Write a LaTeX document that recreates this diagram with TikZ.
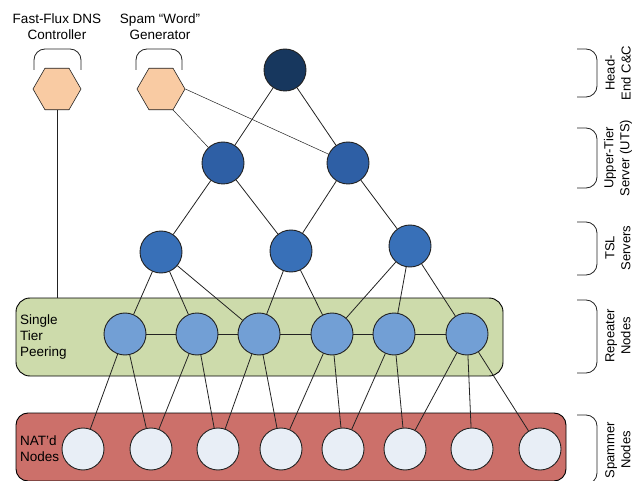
\documentclass[tikz,border=0pt]{standalone}
\usepackage{fontspec}
\setmainfont{Liberation Sans}
\usetikzlibrary{shapes.geometric}

\definecolor{headfill}{HTML}{17375E}
\definecolor{utsfill}{HTML}{2E5FA5}
\definecolor{tslfill}{HTML}{3870B8}
\definecolor{repfill}{HTML}{729FD5}
\definecolor{spamfill}{HTML}{E8EEF6}
\definecolor{peerfill}{HTML}{CDDBAB}
\definecolor{natfill}{HTML}{CC706A}
\definecolor{hexfill}{HTML}{F9CBA3}
\definecolor{edgecol}{HTML}{222222}

\pgfdeclarelayer{boxes}
\pgfdeclarelayer{edges}
\pgfsetlayers{boxes,edges,main}

\tikzset{
  orb/.style={circle, draw=edgecol, line width=0.9pt, minimum size=42pt, inner sep=0pt},
  headnode/.style={orb, fill=headfill},
  utsnode/.style={orb, fill=utsfill},
  tslnode/.style={orb, fill=tslfill},
  repnode/.style={orb, fill=repfill},
  spamnode/.style={orb, fill=spamfill},
  hexnode/.style={regular polygon, regular polygon sides=6, minimum size=48pt,
    inner sep=0pt, draw=edgecol, line width=0.6pt, fill=hexfill},
  tierbox/.style={draw=black, line width=0.9pt, rounded corners=14pt, inner sep=0pt},
  link/.style={draw=edgecol, line width=0.8pt},
  thinlink/.style={draw=edgecol, line width=0.5pt},
  brace/.style={draw=edgecol, line width=0.8pt, rounded corners=11pt},
  toplabel/.style={align=center, font=\fontsize{13.5}{16}\selectfont, inner sep=0pt},
  boxlabel/.style={align=left, font=\fontsize{13.5}{16}\selectfont, inner sep=0pt, anchor=west},
  sidelabel/.style={align=center, font=\fontsize{13}{16}\selectfont, inner sep=0pt, rotate=90}
}

\begin{document}
\begin{tikzpicture}[x=1pt, y=-1pt]
\useasboundingbox (0,0) rectangle (632,481);

% tier boxes
\begin{pgfonlayer}{boxes}
\node[tierbox, fill=peerfill, minimum width=487pt, minimum height=78pt] (peer) at (259.5,337) {};
\node[tierbox, fill=natfill, minimum width=550pt, minimum height=68pt, rounded corners=12pt] (nat) at (291,447) {};
\end{pgfonlayer}
\node[boxlabel] (peerlbl) at (20,337) {Single\\Tier\\Peering};
\node[boxlabel] (natlbl) at (20,448.5) {NAT’d\\Nodes};

% control hexagons and their labels
\node[hexnode] (ff) at (57,89) {};
\node[hexnode] (sw) at (161,89) {};
\node[toplabel] (fflbl) at (57,27) {Fast-Flux DNS\\Controller};
\node[toplabel] (swlbl) at (160,27) {Spam “Word”\\Generator};
\draw[brace] (34,70) -- (34,49) -- (81,49) -- (81,70);
\draw[brace] (136,70) -- (136,49) -- (182,49) -- (182,70);

% server hierarchy
\node[headnode] (head) at (285,70) {};
\node[utsnode] (u1) at (223,163) {};
\node[utsnode] (u2) at (348,163) {};
\node[tslnode] (t1) at (161,252) {};
\node[tslnode] (t2) at (291,251) {};
\node[tslnode] (t3) at (410,246) {};

% repeater nodes
\foreach \i/\x in {1/125,2/197,3/259,4/332,5/394,6/467}
  \node[repnode] (r\i) at (\x,334) {};

% spammer nodes
\foreach \i/\x in {1/83,2/151,3/218,4/281,5/343,6/405,7/472,8/540}
  \node[spamnode] (s\i) at (\x,449) {};

% connectors
\begin{pgfonlayer}{edges}
  \draw[link] (ff.south) -- (ff.south |- peer.north);
  \draw[thinlink] (sw.-60) -- (u1);
  \draw[thinlink] (sw.0) -- (u2);
  \draw[link] (head) -- (u1);
  \draw[link] (head) -- (u2);
  \draw[link] (u1) -- (t1);
  \draw[link] (u1) -- (t2);
  \draw[link] (u2) -- (t2);
  \draw[link] (u2) -- (t3);
  \foreach \r in {1,2,3} \draw[link] (t1) -- (r\r);
  \foreach \r in {3,4} \draw[link] (t2) -- (r\r);
  \foreach \r in {4,5,6} \draw[link] (t3) -- (r\r);
  \draw[link] (r1) -- (r2) -- (r3) -- (r4) -- (r5) -- (r6);
  \foreach \a/\b in {1/1,1/2,2/2,2/3,3/3,3/4,4/4,4/5,5/5,5/6,6/6,6/7,6/8}
    \draw[link] (r\a) -- (s\b);
\end{pgfonlayer}

% tier braces and names on the right
\draw[brace] (577,49) -- (597,49) -- (597,97) -- (577,97);
\draw[brace] (577,128) -- (597,128) -- (597,188) -- (577,188);
\draw[brace] (577,222) -- (597,222) -- (597,275) -- (577,275);
\draw[brace] (577,300) -- (597,300) -- (597,373) -- (577,373);
\draw[brace] (577,415) -- (597,415) -- (597,484) -- (577,484);
\node[sidelabel] (l1) at (618,73) {Head-\\End C\&C};
\node[sidelabel] (l2) at (618,158) {Upper-Tier\\Server (UTS)};
\node[sidelabel] (l3) at (618,248) {TSL\\Servers};
\node[sidelabel] (l4) at (618,336) {Repeater\\Nodes};
\node[sidelabel] (l5) at (618,450) {Spammer\\Nodes};
\end{tikzpicture}
\end{document}
